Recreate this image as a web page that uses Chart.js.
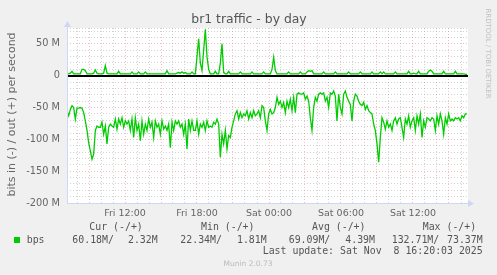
<!DOCTYPE html>
<html>
<head>
<meta charset="utf-8">
<script src="https://cdn.jsdelivr.net/npm/chart.js@4"></script>
<style>
  html, body { margin: 0; padding: 0; background: #f0f0f0; }
  canvas { display: block; }
</style>
</head>
<body>
<canvas id="trafficChart" width="497" height="275"></canvas>
<script>
// one sample every 5/36 h, first one Fri 07:10 (hours counted from Fri 00:00)
const startHour = 7 + 10 / 60;
const stepHours = 5 / 36;

// bits out (+), in M
const bitsOut = [
  3,3,4,7,3,3,3,3,3,10,10,8,3,3,3,3,4,9,4,3,
  3,3,4,16,4,3,3,3,3,3,3,7,3,3,3,3,3,3,3,6,
  3,3,3,6,3,3,3,6,3,3,3,3,3,3,3,3,3,3,3,3,
  8,3,3,3,3,3,4,5,4,6,4,5,3,3,3,6,3,3,30,58,
  20,8,40,73,30,10,3,3,3,7,3,3,20,50,5,3,3,7,3,3,
  3,3,3,3,6,3,3,3,3,3,3,6,3,3,3,3,3,3,6,3,
  3,3,3,10,29,8,3,3,3,3,3,3,3,6,3,3,3,3,3,3,
  6,3,3,3,6,8,7,8,3,3,3,3,3,3,6,3,3,3,3,3,
  3,6,3,3,3,3,3,3,3,6,3,3,3,3,3,3,6,3,3,3,
  3,3,3,6,3,3,3,3,6,3,6,3,3,3,3,3,3,6,3,3,
  3,3,3,3,3,7,3,3,4,3,3,7,3,3,3,3,3,7,9,7,
  3,3,3,3,3,3,7,3,3,3,3,3,3,7,3,3,3,3,3,2,2
];

// bits in (-), in M
const bitsIn = [
  55,63,53,47,50,68,51,51,50,51,58,71,86,105,118,131,123,86,79,81,
  81,73,92,79,107,81,76,79,81,68,84,68,76,66,81,71,76,71,86,68,
  97,66,86,76,102,71,92,76,86,68,81,73,97,71,81,76,92,71,84,79,
  86,76,113,73,86,71,76,71,81,76,92,76,115,68,86,71,86,86,71,92,
  76,81,73,86,71,81,79,81,73,76,68,76,128,92,107,86,115,94,97,81,
  71,60,55,68,58,66,60,63,55,68,58,66,55,63,60,55,66,47,50,71,
  86,60,53,60,58,50,34,45,40,50,42,58,40,50,37,55,34,58,29,27,
  29,29,27,37,32,40,66,86,50,34,40,29,27,29,27,40,34,50,27,29,
  24,32,71,29,50,60,29,24,34,40,45,71,40,29,32,40,45,47,42,53,
  47,55,58,60,76,86,107,136,97,66,73,84,71,81,76,86,71,66,76,68,
  66,81,97,68,76,63,81,71,66,86,63,76,60,97,71,81,66,68,71,66,
  68,86,63,76,60,71,92,66,76,60,71,68,71,66,68,66,71,63,66,60,
  60
];

const hourTicks = [12, 18, 24, 30, 36];
const hourTickLabels = ['Fri 12:00', 'Fri 18:00', 'Sat 00:00', 'Sat 06:00', 'Sat 12:00'];
const yTicks = [50, 0, -50, -100, -150, -200];
const yTickLabels = ['50 M', '0', '-50 M', '-100 M', '-150 M', '-200 M'];

const legendHeaders = ['Cur (-/+)', 'Min (-/+)', 'Avg (-/+)', 'Max (-/+)'];
const legendIn = ['60.18M/', '22.34M/', '69.09M/', '132.71M/'];
const legendOut = ['2.32M', '1.81M', '4.39M', '73.37M'];

const GREEN = '#00cc00';
const GRID = 'rgba(150,150,150,0.42)';
const MGRID = 'rgba(220,110,110,0.45)';
const AXIS = '#cfd6f8';

function toPoints(values, sign) {
    return values.map((v, i) => ({ x: startHour + i * stepHours, y: sign * v }));
}

const muninFrame = {
    id: 'muninFrame',
    beforeDraw(chart) {
        const { ctx, chartArea: a } = chart;
        ctx.save();
        ctx.fillStyle = '#f0f0f0';
        ctx.fillRect(0, 0, chart.width, chart.height);
        ctx.fillStyle = '#ffffff';
        ctx.fillRect(a.left, a.top, a.right - a.left, a.bottom - a.top);
        ctx.restore();
    },
    beforeDatasetsDraw(chart) {
        const { ctx, chartArea: a } = chart;
        const y0 = Math.round(chart.scales.y.getPixelForValue(0));
        ctx.save();
        ctx.fillStyle = '#000000';
        ctx.fillRect(a.left, y0 - 1, a.right - a.left, 2);
        ctx.restore();
    },
    afterDraw(chart) {
        const { ctx, chartArea: a } = chart;
        ctx.save();

        // axes + arrows
        ctx.strokeStyle = AXIS;
        ctx.lineWidth = 1;
        ctx.beginPath();
        ctx.moveTo(a.left + 0.5, a.bottom);
        ctx.lineTo(a.left + 0.5, a.top - 4);
        ctx.moveTo(a.left, a.bottom + 0.5);
        ctx.lineTo(a.right + 2, a.bottom + 0.5);
        ctx.stroke();
        ctx.fillStyle = AXIS;
        ctx.beginPath();
        ctx.moveTo(a.left + 0.5, a.top - 7);
        ctx.lineTo(a.left - 3, a.top - 1);
        ctx.lineTo(a.left + 4, a.top - 1);
        ctx.fill();
        ctx.beginPath();
        ctx.moveTo(a.right + 6, a.bottom + 0.5);
        ctx.lineTo(a.right, a.bottom - 3);
        ctx.lineTo(a.right, a.bottom + 4);
        ctx.fill();

        // title
        ctx.fillStyle = '#555';
        ctx.font = '12.4px "DejaVu Sans"';
        ctx.textAlign = 'center';
        ctx.textBaseline = 'alphabetic';
        ctx.fillText('br1 traffic - by day', 249, 22.5);

        // y axis title
        ctx.save();
        ctx.translate(12, 114.5);
        ctx.rotate(-Math.PI / 2);
        ctx.fillStyle = '#666';
        ctx.font = '11px "DejaVu Sans"';
        ctx.textBaseline = 'middle';
        ctx.fillText('bits in (-) / out (+) per second', 0, 0);
        ctx.restore();

        // rrdtool watermark
        ctx.save();
        ctx.translate(488, 53.5);
        ctx.rotate(Math.PI / 2);
        ctx.fillStyle = '#c0c0c0';
        ctx.font = '7px "DejaVu Sans"';
        ctx.textBaseline = 'middle';
        ctx.fillText('RRDTOOL / TOBI OETIKER', 0, 0);
        ctx.restore();

        // legend
        ctx.font = '9.9px "DejaVu Sans Mono"';
        ctx.fillStyle = '#555';
        ctx.textBaseline = 'middle';
        ctx.textAlign = 'left';
        const headerX = [89.3, 201, 312, 422.7];
        legendHeaders.forEach((h, i) => ctx.fillText(h, headerX[i], 227.5));

        ctx.fillStyle = GREEN;
        ctx.fillRect(14, 237, 6, 6);
        ctx.fillStyle = '#555';
        ctx.fillText('bps', 26.7, 240);
        const inX = [72.3, 180.3, 288.7, 391.7];
        const outX = [157.7, 266.7, 375, 482.7];
        legendIn.forEach((t, i) => ctx.fillText(t, inX[i], 240));
        ctx.textAlign = 'right';
        legendOut.forEach((t, i) => ctx.fillText(t, outX[i], 240));
        ctx.fillText('Last update: Sat Nov  8 16:20:03 2025', 482.7, 251.5);

        ctx.textAlign = 'center';
        ctx.fillStyle = '#bbb';
        ctx.font = '7.5px "DejaVu Sans"';
        ctx.fillText('Munin 2.0.73', 248, 264.5);

        ctx.restore();
    }
};

const ctx = document.getElementById('trafficChart').getContext('2d');
const trafficChart = new Chart(ctx, {
    type: 'line',
    data: {
        datasets: [
            {
                label: 'out',
                data: toPoints(bitsOut, 1),
                borderColor: GREEN,
                borderWidth: 1.3,
                pointRadius: 0,
                fill: false,
                tension: 0
            },
            {
                label: 'in',
                data: toPoints(bitsIn, -1),
                borderColor: GREEN,
                borderWidth: 1.3,
                pointRadius: 0,
                fill: false,
                tension: 0
            }
        ]
    },
    options: {
        responsive: false,
        animation: false,
        devicePixelRatio: 1,
        layout: { padding: { left: 0, right: 29, top: 28, bottom: 0 } },
        plugins: {
            legend: { display: false },
            tooltip: { enabled: false },
            title: { display: false }
        },
        scales: {
            x: {
                type: 'linear',
                bounds: 'data',
                min: 7 + 10 / 60,
                max: 40 + 35 / 60,
                afterFit: function(scale) { scale.height = 72; },
                // one grid line per hour
                afterBuildTicks: function(scale) {
                    const ticks = [];
                    for (let h = Math.ceil(scale.min); h <= scale.max; h++) {
                        ticks.push({ value: h });
                    }
                    scale.ticks = ticks;
                },
                border: { display: false, dash: [1, 2] },
                grid: {
                    drawTicks: false,
                    lineWidth: 1,
                    color: function(c) {
                        const v = c.tick ? c.tick.value : 1;
                        return v % 3 === 0 ? MGRID : GRID;
                    }
                },
                ticks: {
                    autoSkip: false,
                    maxRotation: 0,
                    padding: 5,
                    color: '#666',
                    font: { family: 'DejaVu Sans', size: 9.5 },
                    callback: function(value) {
                        const idx = hourTicks.indexOf(value);
                        return idx >= 0 ? hourTickLabels[idx] : '';
                    }
                }
            },
            y: {
                bounds: 'data',
                min: -200,
                max: 75,
                afterFit: function(scale) { scale.width = 67; },
                border: { display: false, dash: [1, 2] },
                grid: {
                    drawTicks: false,
                    lineWidth: 1,
                    color: function(c) {
                        const v = c.tick ? c.tick.value : 1;
                        if (v === 0) return 'rgba(0,0,0,0)';
                        return v % 50 === 0 ? MGRID : GRID;
                    }
                },
                ticks: {
                    stepSize: 10,
                    autoSkip: false,
                    padding: 7,
                    color: '#666',
                    font: { family: 'DejaVu Sans', size: 9.8 },
                    callback: function(value) {
                        const idx = yTicks.indexOf(value);
                        return idx >= 0 ? yTickLabels[idx] : '';
                    }
                }
            }
        }
    },
    plugins: [muninFrame]
});
</script>
</body>
</html>
